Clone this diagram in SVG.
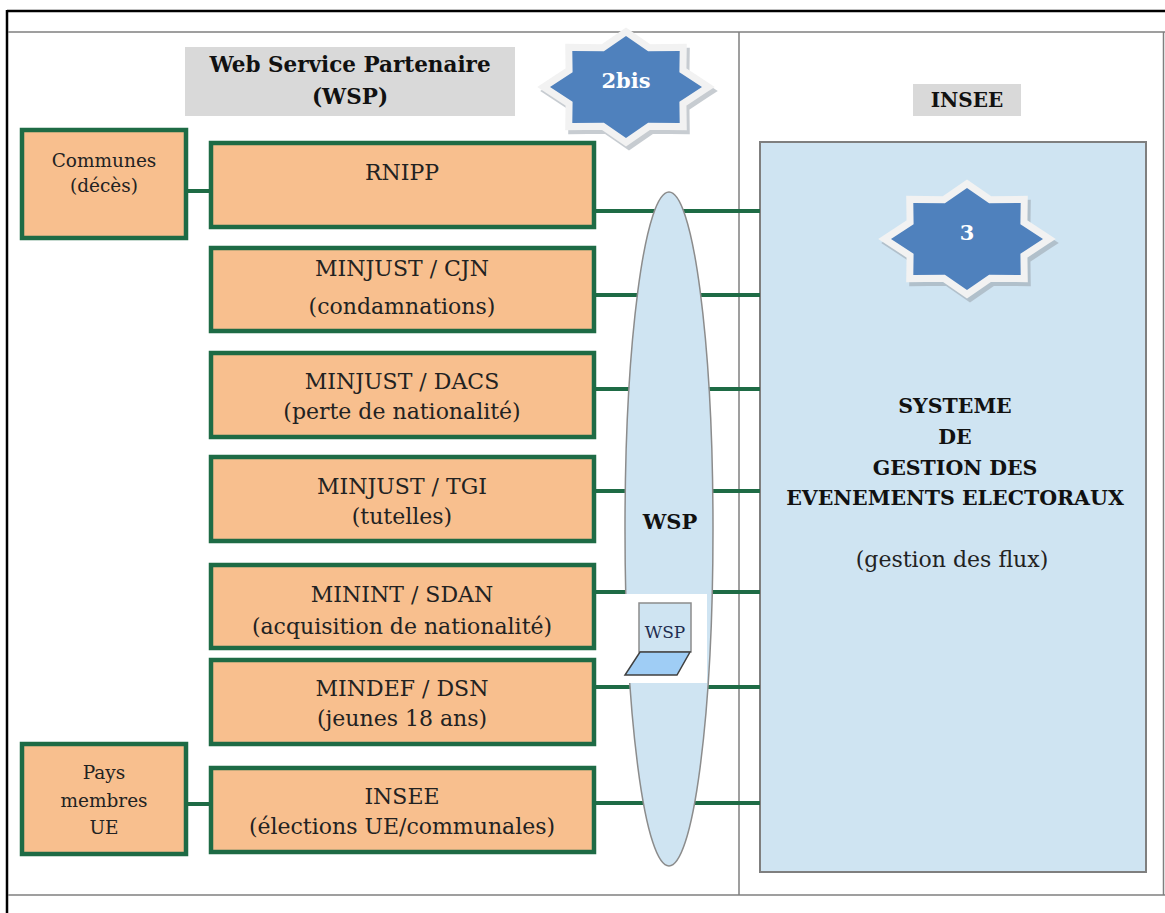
<svg xmlns="http://www.w3.org/2000/svg" width="1165" height="913" viewBox="0 0 1165 913">
<defs>
<style>
.box{fill:#f8bf8e;stroke:#1e6b45;stroke-width:4.5}
.lnk{stroke:#1e6b45;stroke-width:4;fill:none}
.t{font-family:"DejaVu Serif","Liberation Serif",serif;font-size:22px;fill:#222;text-anchor:middle}
.ts{font-family:"DejaVu Serif","Liberation Serif",serif;font-size:18.5px;fill:#222;text-anchor:middle}
.b{font-family:"DejaVu Serif","Liberation Serif",serif;font-weight:bold;font-size:20.5px;fill:#111;text-anchor:middle}
.grid{stroke:#7f7f7f;stroke-width:1.5;fill:none}
.starw{fill:#f2f2f2;stroke:#f2f2f2;stroke-width:14;stroke-linejoin:miter}
.stars{fill:#9aa3ad;stroke:#9aa3ad;stroke-width:14;opacity:0.55}
.starb{fill:#4f81bd}
.st{font-family:"DejaVu Serif","Liberation Serif",serif;font-weight:bold;font-size:21px;fill:#ffffff;text-anchor:middle}
</style>
<path id="star" d="M76,0 L53.4,14.8 L53.7,36.1 L22.1,35.8 L0,51 L-22.1,35.8 L-53.7,36.1 L-53.4,14.8 L-76,0 L-53.4,-14.8 L-53.7,-36.1 L-22.1,-35.8 L0,-51 L22.1,-35.8 L53.7,-36.1 L53.4,-14.8 Z"/>
</defs>
<rect width="1165" height="913" fill="#ffffff"/>
<g id="frame">
<line x1="7" y1="11" x2="1165" y2="11" stroke="#000" stroke-width="2.5"/>
<line x1="7" y1="10" x2="7" y2="913" stroke="#000" stroke-width="2.5"/>
<line class="grid" x1="8" y1="32" x2="1165" y2="32"/>
<line class="grid" x1="1163.5" y1="32" x2="1163.5" y2="895"/>
<line class="grid" x1="8" y1="895" x2="1165" y2="895"/>
<line class="grid" x1="739" y1="32" x2="739" y2="895"/>
</g>
<g id="wsp-header">
<rect x="185" y="47" width="330" height="69" fill="#d9d9d9"/>
<text class="b" x="350" y="72" style="font-size:21.5px">Web Service Partenaire</text>
<text class="b" x="350" y="104" style="font-size:21.5px">(WSP)</text>
</g>
<g id="insee-header">
<rect x="913" y="84" width="108" height="32" fill="#d9d9d9"/>
<text class="b" x="967" y="107" style="font-size:20px">INSEE</text>
</g>
<g id="sgee">
<rect x="760" y="142" width="386" height="730" fill="#cfe4f2" stroke="#7f7f7f" stroke-width="2"/>
<text class="b" x="955" y="413">SYSTEME</text>
<text class="b" x="955" y="444">DE</text>
<text class="b" x="955" y="475">GESTION DES</text>
<text class="b" x="955" y="505">EVENEMENTS ELECTORAUX</text>
<text class="t" x="952" y="567">(gestion des flux)</text>
</g>
<g id="connectors">
<line class="lnk" x1="186" y1="191" x2="211" y2="191"/>
<line class="lnk" x1="186" y1="804" x2="211" y2="804"/>
<line class="lnk" x1="594" y1="211" x2="760" y2="211"/>
<line class="lnk" x1="594" y1="295" x2="760" y2="295"/>
<line class="lnk" x1="594" y1="389" x2="760" y2="389"/>
<line class="lnk" x1="594" y1="491" x2="760" y2="491"/>
<line class="lnk" x1="594" y1="592" x2="760" y2="592"/>
<line class="lnk" x1="594" y1="687" x2="760" y2="687"/>
<line class="lnk" x1="594" y1="803" x2="760" y2="803"/>
</g>
<g id="wsp-bus">
<ellipse cx="669" cy="529" rx="44" ry="337" fill="#cfe4f2" stroke="#8c8c8c" stroke-width="1.5"/>
<text class="b" x="670" y="529" style="font-size:21px">WSP</text>
</g>
<g id="laptop">
<rect x="596" y="594" width="111" height="89" fill="#ffffff"/>
<rect x="639" y="603" width="52" height="49" fill="#cfe4f2" stroke="#8c8c8c" stroke-width="1.5"/>
<text x="665" y="638" font-family="'DejaVu Serif','Liberation Serif',serif" font-size="17" fill="#1f2d50" text-anchor="middle">WSP</text>
<polygon points="625,675 677,675 690,652 640,652" fill="#9fcdf5" stroke="#404040" stroke-width="1.5"/>
</g>
<g id="star-2bis">
<use href="#star" x="629" y="91" class="stars"/>
<use href="#star" x="626" y="87" class="starw"/>
<use href="#star" x="626" y="87" class="starb"/>
<text class="st" x="626" y="88">2bis</text>
</g>
<g id="star-3">
<use href="#star" x="970" y="243" class="stars"/>
<use href="#star" x="967" y="239" class="starw"/>
<use href="#star" x="967" y="239" class="starb"/>
<text class="st" x="967" y="240">3</text>
</g>
<g id="communes">
<rect class="box" x="22" y="130" width="164" height="108"/>
<text class="ts" x="104" y="167">Communes</text>
<text class="ts" x="104" y="192">(décès)</text>
</g>
<g id="pays-ue">
<rect class="box" x="22" y="744" width="164" height="110"/>
<text class="ts" x="104" y="779">Pays</text>
<text class="ts" x="104" y="807">membres</text>
<text class="ts" x="104" y="834">UE</text>
</g>
<g id="rnipp">
<rect class="box" x="211" y="143" width="383" height="84"/>
<text class="t" x="402" y="180">RNIPP</text>
</g>
<g id="cjn">
<rect class="box" x="211" y="248" width="383" height="83"/>
<text class="t" x="402" y="276">MINJUST / CJN</text>
<text class="t" x="402" y="314">(condamnations)</text>
</g>
<g id="dacs">
<rect class="box" x="211" y="353" width="383" height="84"/>
<text class="t" x="402" y="389">MINJUST / DACS</text>
<text class="t" x="402" y="419">(perte de nationalité)</text>
</g>
<g id="tgi">
<rect class="box" x="211" y="457" width="383" height="84"/>
<text class="t" x="402" y="494">MINJUST / TGI</text>
<text class="t" x="402" y="524">(tutelles)</text>
</g>
<g id="sdan">
<rect class="box" x="211" y="565" width="383" height="83"/>
<text class="t" x="402" y="602">MININT / SDAN</text>
<text class="t" x="402" y="634">(acquisition de nationalité)</text>
</g>
<g id="dsn">
<rect class="box" x="211" y="660" width="383" height="84"/>
<text class="t" x="402" y="696">MINDEF / DSN</text>
<text class="t" x="402" y="726">(jeunes 18 ans)</text>
</g>
<g id="insee">
<rect class="box" x="211" y="768" width="383" height="84"/>
<text class="t" x="402" y="804">INSEE</text>
<text class="t" x="402" y="834">(élections UE/communales)</text>
</g>
</svg>
